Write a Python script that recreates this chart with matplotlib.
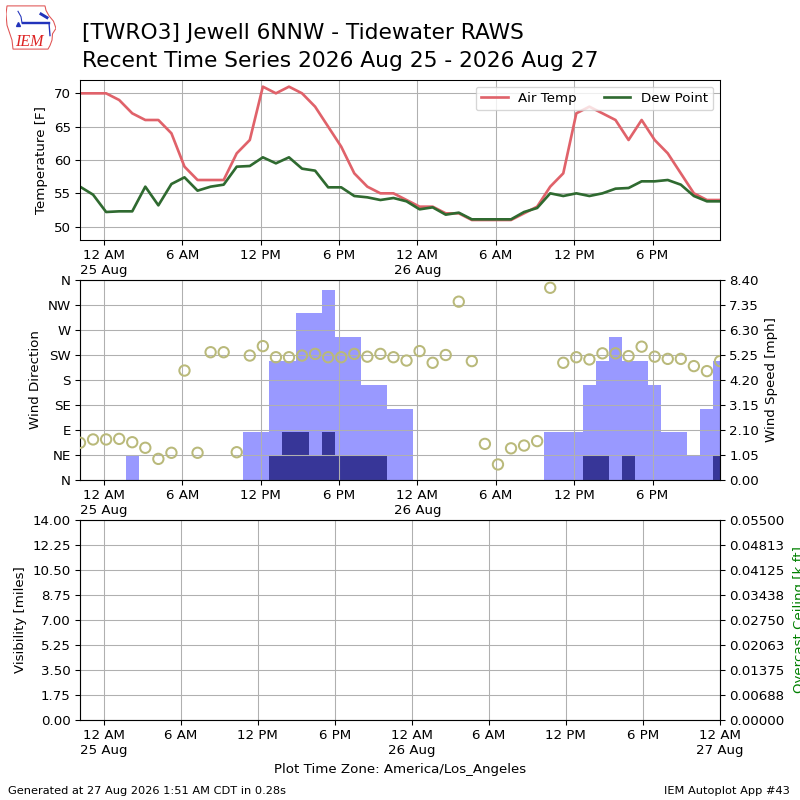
import numpy as np
import pandas as pd
import matplotlib
matplotlib.use("Agg")
import matplotlib.pyplot as plt
import matplotlib.dates as mdates
from matplotlib.ticker import FixedLocator, FuncFormatter, FormatStrFormatter
from matplotlib.patches import Polygon

# hourly observations, local time (America/Los_Angeles)
tider = pd.date_range("2026-08-24 22:10", periods=50, freq="h")

lufttemp = [70, 70, 70, 69, 67, 66, 66, 64, 59, 57, 57, 57, 61, 63, 71, 70, 71, 70, 68, 65,
            62, 58, 56, 55, 55, 54, 53, 53, 52, 52, 51, 51, 51, 51, 52, 53, 56, 58, 67, 68,
            67, 66, 63, 66, 63, 61, 58, 55, 54, 54]
duggpunkt = [56.0, 54.8, 52.2, 52.3, 52.3, 56.0, 53.2, 56.4, 57.4, 55.4, 56.0, 56.3, 59.0, 59.1,
             60.4, 59.5, 60.4, 58.7, 58.4, 55.9, 55.9, 54.6, 54.4, 54.0, 54.3, 53.8, 52.6, 52.9,
             51.8, 52.1, 51.1, 51.1, 51.1, 51.1, 52.2, 52.8, 55.0, 54.6, 55.0, 54.6, 55.0, 55.7,
             55.8, 56.8, 56.8, 57.0, 56.3, 54.6, 53.8, 53.8]
vindretning = [67, 73, 73, 74, 68, 58, 38, 49, 197, 49, 230, 230, 50, 224, 241, 221, 221, 224,
               227, 221, 221, 227, 222, 227, 221, 215, 232, 211, 225, 321, 214, 65, 28, 57, 62,
               70, 346, 211, 221, 217, 228, 228, 223, 240, 222, 218, 218, 205, 196, 214]
vindkast = [0, 0, 0, 0, 1, 0, 0, 0, 0, 0, 0, 0, 0, 2, 2, 5, 5, 7, 7, 8, 6, 6, 4, 4, 3, 3,
            0, 0, 0, 0, 0, 0, 0, 0, 0, 0, 2, 2, 2, 4, 5, 6, 5, 5, 4, 2, 2, 1, 3, 5]
vindfart = [0, 0, 0, 0, 0, 0, 0, 0, 0, 0, 0, 0, 0, 0, 0, 1, 2, 2, 1, 2, 1, 1, 1, 1, 0, 0,
            0, 0, 0, 0, 0, 0, 0, 0, 0, 0, 0, 0, 0, 1, 1, 0, 1, 0, 0, 0, 0, 0, 0, 1]

retningsnavn = ["N", "NE", "E", "SE", "S", "SW", "W", "NW", "N"]
retningsgrader = [0, 45, 90, 135, 180, 225, 270, 315, 360]

start = pd.Timestamp("2026-08-24 22:10")
slutt = pd.Timestamp("2026-08-26 23:10")
slutt_sikt = pd.Timestamp("2026-08-27 00:00")


def tidsformat(x, pos=None):  # 12 AM med dato under, ellers bare klokkeslett
    d = mdates.num2date(x)
    if d.hour == 0:
        return "12 AM\n%d %s" % (d.day, d.strftime("%b"))
    h = d.hour % 12
    if h == 0:
        h = 12
    return "%d %s" % (h, "AM" if d.hour < 12 else "PM")


def sett_tidsakse(ax, x0, x1):
    ax.set_xlim(mdates.date2num(x0), mdates.date2num(x1))
    ax.xaxis.set_major_locator(mdates.HourLocator(byhour=[0, 6, 12, 18]))
    ax.xaxis.set_major_formatter(FuncFormatter(tidsformat))
    ax.grid(True)


fig = plt.figure(figsize=(800 / 96, 800 / 96), dpi=96)

# Temperatur
ax1 = fig.add_axes([0.1, 0.7, 0.8, 0.2])
ax1.plot(tider, lufttemp, color="#e0626a", lw=2, label="Air Temp")
ax1.plot(tider, duggpunkt, color="#2f6a30", lw=2, label="Dew Point")
ax1.set_ylim(48, 72)
ax1.set_yticks([50, 55, 60, 65, 70])
ax1.set_ylabel("Temperature [F]")
sett_tidsakse(ax1, start, slutt)
ax1.legend(loc="upper right", ncol=2)

# Vind
ax2 = fig.add_axes([0.1, 0.4, 0.8, 0.25])
ax2b = ax2.twinx()
ax2b.bar(tider, vindkast, width=1 / 24.0, color="#9999ff", align="center")
ax2b.bar(tider, vindfart, width=1 / 24.0, color="#373698", align="center")
ax2b.set_ylim(0, 8.4)
ax2b.yaxis.set_major_locator(FixedLocator(np.arange(9) * 1.05))
ax2b.yaxis.set_major_formatter(FormatStrFormatter("%.2f"))
ax2b.set_ylabel("Wind Speed [mph]")
ax2.set_zorder(ax2b.get_zorder() + 1)
ax2.patch.set_visible(False)
ax2.scatter(tider, vindretning, s=60, facecolor="none", edgecolor="#b9b97a", lw=1.5, zorder=5)
ax2.set_ylim(0, 360)
ax2.set_yticks(retningsgrader)
ax2.set_yticklabels(retningsnavn)
ax2.set_ylabel("Wind Direction")
sett_tidsakse(ax2, start, slutt)
ax2b.set_xlim(ax2.get_xlim())

# Sikt og skydekke (ingen data)
ax3 = fig.add_axes([0.1, 0.1, 0.8, 0.25])
sett_tidsakse(ax3, start, slutt_sikt)
ax3.set_ylim(0, 14)
ax3.yaxis.set_major_locator(FixedLocator(np.arange(9) * 1.75))
ax3.yaxis.set_major_formatter(FormatStrFormatter("%.2f"))
ax3.set_ylabel("Visibility [miles]")
ax3b = ax3.twinx()
ax3b.set_ylim(0, 0.055)
ax3b.yaxis.set_major_locator(FixedLocator(np.arange(9) * 0.055 / 8))
ax3b.yaxis.set_major_formatter(FormatStrFormatter("%.5f"))
ax3b.set_ylabel("Overcast Ceiling [k ft]", color="green", labelpad=6)
ax3.set_xlabel("Plot Time Zone: America/Los_Angeles")

# Tittel
fig.text(81.5 / 800, 1 - 39.3 / 800, "[TWRO3] Jewell 6NNW - Tidewater RAWS", fontsize=16.3, va="baseline")
fig.text(81.5 / 800, 1 - 66.7 / 800, "Recent Time Series 2026 Aug 25 - 2026 Aug 27", fontsize=16.3, va="baseline")
fig.text(8 / 800, 6 / 800, "Generated at 27 Aug 2026 1:51 AM CDT in 0.28s", fontsize=8.5)
fig.text(790 / 800, 6 / 800, "IEM Autoplot App #43", fontsize=8.5, ha="right")

# enkel IEM-logo
lax = fig.add_axes([6 / 800, 1 - 50 / 800, 50 / 800, 45 / 800])
lax.set_xlim(0, 1)
lax.set_ylim(0, 1)
lax.axis("off")
omriss = [(0.02, 0.98), (0.78, 0.98), (0.80, 0.88), (0.86, 0.76), (0.95, 0.64), (1.0, 0.48),
          (0.93, 0.36), (0.92, 0.22), (0.88, 0.10), (0.84, 0.02), (0.14, 0.02), (0.12, 0.22),
          (0.02, 0.55), (0.0, 0.80)]
lax.add_patch(Polygon(omriss, closed=True, fill=False, edgecolor="#e05555", lw=0.8))
lax.plot([0.34, 0.86], [0.60, 0.60], color="#2233bb", lw=1.8)
lax.plot([0.24, 0.30, 0.32], [0.86, 0.74, 0.60], color="#2233bb", lw=0.8)
lax.plot([0.70, 0.82], [0.80, 0.72], color="#2233bb", lw=2.2)
lax.plot([0.86, 0.88], [0.60, 0.32], color="#2233bb", lw=1)
lax.plot([0.24], [0.58], marker="^", ms=3, color="#2233bb")
lax.text(0.18, 0.10, "IEM", color="#dd2222", fontsize=12, family="Liberation Serif", style="italic")

fig.savefig("out.png", dpi=96)
